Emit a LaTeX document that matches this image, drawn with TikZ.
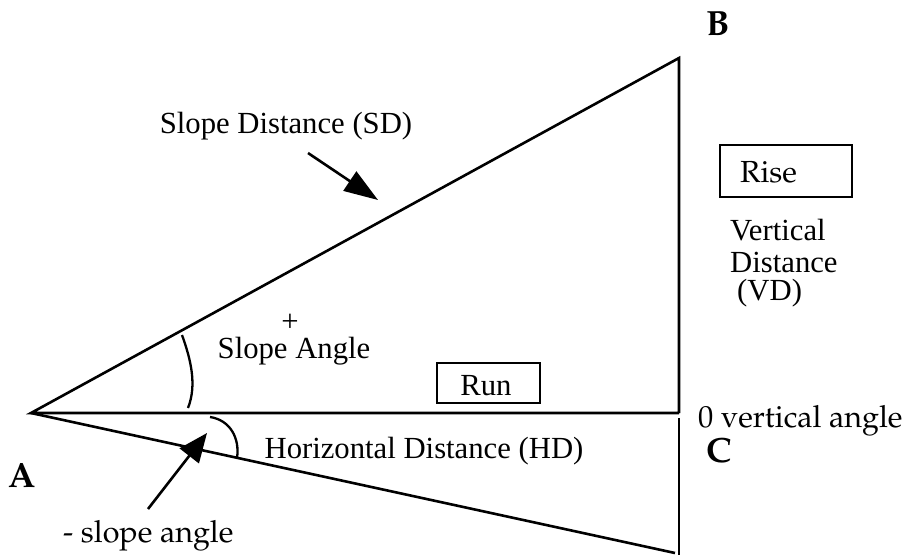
\documentclass[tikz,border=0pt]{standalone}
\usepackage[T1]{fontenc}
\usepackage{fontspec}
\setmainfont{Liberation Serif}
\usetikzlibrary{arrows.meta}
\newcommand{\palfont}{\fontencoding{T1}\fontfamily{ppl}\selectfont}
\begin{document}
\begin{tikzpicture}[x=1pt,y=-1pt,
  edge/.style={line width=2.6pt,line cap=butt},
  thin/.style={line width=2.3pt},
  tms/.style={inner sep=0pt,font=\fontsize{30.7}{32}\selectfont},
  pal/.style={inner sep=0pt,font=\palfont\fontsize{30.5}{32}\selectfont},
  palb/.style={inner sep=0pt,font=\palfont\bfseries\fontsize{35}{36}\selectfont},
  pointer/.style={line width=2.6pt,-{Triangle[length=34pt,width=23pt]}}
]
\useasboundingbox (0,0) rectangle (908,555);
% corners
\coordinate (A) at (31,413);
\coordinate (B) at (679,58);
\coordinate (H) at (679,413);
\coordinate (Ct) at (679,418);
\coordinate (Cb) at (679,555);
\coordinate (L) at (675,553);
% triangle
\draw[edge,line join=miter] (H) -- (A) -- (B) -- (H);
\draw[edge] (A) -- (L);
\draw[edge] (Ct) -- (Cb);
% angle arcs
\coordinate (s1) at (182,335);
\coordinate (s2) at (188,408);
\draw[thin] (s1) .. controls (191,360) and (197,385) .. (s2);
\coordinate (h1) at (210,417);
\coordinate (h2) at (237,458);
\draw[thin] (h1) .. controls (230,420) and (240,438) .. (h2);
% pointers
\coordinate (p1s) at (308,153);
\coordinate (p1e) at (378,200);
\draw[pointer] (p1s) -- (p1e);
\coordinate (p2s) at (148,509);
\coordinate (p2e) at (207,433);
\draw[pointer,-{Triangle[length=29pt,width=24pt]}] (p2s) -- (p2e);
% labels
\node[tms,anchor=base] (sd) at (286,133) {Slope Distance (SD)};
\node[inner sep=0pt,font=\fontsize{30.7}{32}\selectfont,text height=7pt,text depth=0pt,anchor=base] (plus) at (290,331) {+};
\node[tms,anchor=base] (sa) at (294,358) {Slope Angle};
\node[tms,anchor=base] (hd) at (424,458) {Horizontal Distance (HD)};
\node[draw,line width=1.3pt,minimum width=103pt,minimum height=40pt,inner sep=0pt] (runbox) at (488.5,383) {};
\node[tms,anchor=base] (run) at (486,395) {Run};
\node[draw,line width=1.3pt,minimum width=132pt,minimum height=52pt,inner sep=0pt] (risebox) at (786,171) {};
\node[pal,anchor=base west] (rise) at (740,182) {Rise};
\node[tms,anchor=base west] (vd1) at (730,240) {Vertical};
\node[tms,anchor=base west] (vd2) at (730,272) {Distance};
\node[tms,anchor=base west] (vd3) at (737,300) {(VD)};
\node[pal,anchor=base west] (zero) at (698,427) {0 vertical angle};
\node[pal,anchor=base west] (ssa) at (63,542) {- slope angle};
\node[palb,anchor=base west] (la) at (8,487) {A};
\node[palb,anchor=base west] (lb) at (706,35) {B};
\node[palb,anchor=base west] (lc) at (706,462) {C};
\end{tikzpicture}
\end{document}
